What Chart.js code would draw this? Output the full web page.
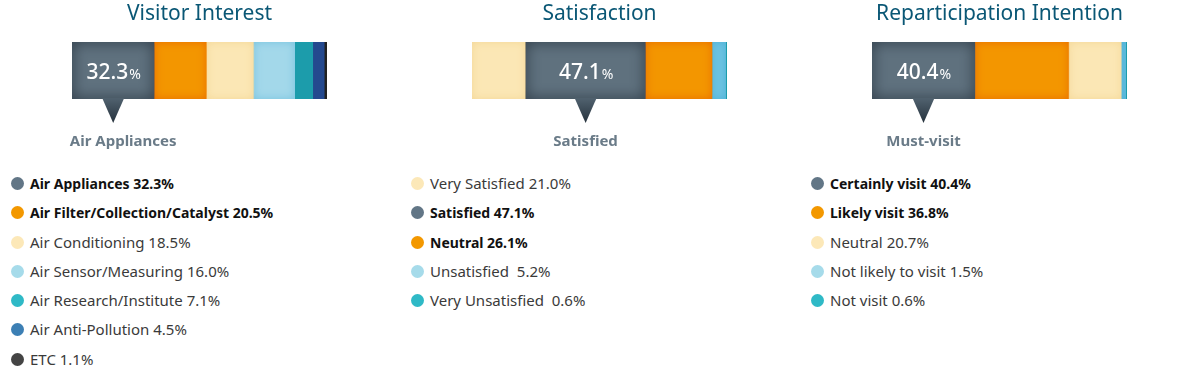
<!DOCTYPE html>
<html>
<head>
<meta charset="utf-8">
<script src="https://cdn.jsdelivr.net/npm/chart.js@4.4.0/dist/chart.umd.min.js"></script>
<style>
  html, body { margin: 0; padding: 0; background: #fff; }
  body { width: 1200px; height: 380px; position: relative; overflow: hidden; font-family: "Noto Sans", sans-serif; }
  .panel { position: absolute; top: 0; width: 400px; height: 380px; }
  .panel canvas { position: absolute; left: 0; top: 0; }
  .legend { position: absolute; left: 10px; top: 169px; margin: 0; padding: 0; list-style: none; }
  .legend li { height: 29.3px; line-height: 29.3px; font-size: 15px; color: #3a3a3a; white-space: pre; position: relative; padding-left: 20px; }
  .legend li.bold { font-weight: bold; font-size: 14px; color: #111; }
  .legend li span { position: absolute; left: 1px; top: 8px; width: 13px; height: 13px; border-radius: 50%; }
</style>
</head>
<body>
<div class="panel" style="left:0"><canvas id="c0" width="400" height="165"></canvas><ul class="legend" id="l0"></ul></div>
<div class="panel" style="left:400px"><canvas id="c1" width="400" height="165"></canvas><ul class="legend" id="l1"></ul></div>
<div class="panel" style="left:800px"><canvas id="c2" width="400" height="165"></canvas><ul class="legend" id="l2"></ul></div>
<script>
// data
const interestTitle = "Visitor Interest";
const interestLabels = ["Air Appliances", "Air Filter/Collection/Catalyst", "Air Conditioning", "Air Sensor/Measuring", "Air Research/Institute", "Air Anti-Pollution", "ETC"];
const interestValues = [32.3, 20.5, 18.5, 16.0, 7.1, 4.5, 1.1];

const satisfactionTitle = "Satisfaction";
const satisfactionLabels = ["Very Satisfied", "Satisfied", "Neutral", "Unsatisfied ", "Very Unsatisfied "];
const satisfactionValues = [21.0, 47.1, 26.1, 5.2, 0.6];

const revisitTitle = "Reparticipation Intention";
const revisitLabels = ["Certainly visit", "Likely visit", "Neutral", "Not likely to visit", "Not visit"];
const revisitValues = [40.4, 36.8, 20.7, 1.5, 0.6];

// colours
const DARK = "#5f717e", ORANGE = "#f39600", CREAM = "#fbe7b5", LBLUE = "#a3d8ea", TEAL = "#1c9cab", NAVY = "#24498e", BLACK = "#222";
const shadeOf = {};
shadeOf[DARK] = "#27333e"; shadeOf[ORANGE] = "#e96c00"; shadeOf[CREAM] = "#f4d797";
shadeOf[LBLUE] = "#78c3df"; shadeOf["#6fc4e2"] = "#4fb2d8";

const panels = [
  { title: interestTitle, labels: interestLabels, values: interestValues, hi: 0, caption: "Air Appliances", bold: [0, 1],
    bars: [DARK, ORANGE, CREAM, LBLUE, TEAL, NAVY, BLACK],
    dots: ["#627686", "#f39800", "#fce8b8", "#a6dbea", "#2fb9c6", "#3c7fb4", "#444"] },
  { title: satisfactionTitle, labels: satisfactionLabels, values: satisfactionValues, hi: 1, caption: "Satisfied", bold: [1, 2],
    bars: [CREAM, DARK, ORANGE, "#6fc4e2", TEAL],
    dots: ["#fce8b8", "#627686", "#f39800", "#a6dbea", "#2fb9c6"] },
  { title: revisitTitle, labels: revisitLabels, values: revisitValues, hi: 0, caption: "Must-visit", bold: [0, 1],
    bars: [DARK, ORANGE, CREAM, "#6fc4e2", TEAL],
    dots: ["#627686", "#f39800", "#fce8b8", "#a6dbea", "#2fb9c6"] }
];

function barBox(el) {
  const p = el.getProps(["x", "y", "base", "height"], true);
  const l = Math.min(p.x, p.base), r = Math.max(p.x, p.base);
  return { l: l, r: r, t: p.y - p.height / 2, b: p.y + p.height / 2 };
}

const decor = {
  id: "decor",
  afterDatasetsDraw(chart, args, opts) {
    const ctx = chart.ctx;
    const area = chart.chartArea;
    // inner shading on each segment
    chart.data.datasets.forEach((ds, i) => {
      const shade = shadeOf[ds.backgroundColor];
      if (!shade) return;
      const bx = barBox(chart.getDatasetMeta(i).data[0]);
      ctx.save();
      ctx.beginPath();
      ctx.rect(bx.l, bx.t, bx.r - bx.l, bx.b - bx.t);
      ctx.clip();
      ctx.shadowColor = shade;
      ctx.shadowBlur = ds.backgroundColor === DARK ? 14 : 9;
      ctx.lineWidth = 8;
      ctx.strokeStyle = shade;
      ctx.strokeRect(bx.l - 4, bx.t - 4, bx.r - bx.l + 8, bx.b - bx.t + 8);
      ctx.restore();
    });

    // title
    ctx.save();
    ctx.fillStyle = "#0a5775";
    ctx.font = "21px 'Noto Sans'";
    ctx.textAlign = "center";
    ctx.textBaseline = "middle";
    ctx.fillText(opts.title, (area.left + area.right) / 2, 14);

    // callout on highlighted segment
    const bx = barBox(chart.getDatasetMeta(opts.hi).data[0]);
    const cx = (bx.l + bx.r) / 2;
    const g = ctx.createLinearGradient(0, bx.b, 0, bx.b + 24);
    g.addColorStop(0, "#4f606d");
    g.addColorStop(1, "#26323d");
    ctx.fillStyle = g;
    ctx.beginPath();
    ctx.moveTo(cx - 11, bx.b - 1);
    ctx.lineTo(cx + 11, bx.b - 1);
    ctx.lineTo(cx, bx.b + 24);
    ctx.closePath();
    ctx.fill();

    const num = chart.data.datasets[opts.hi].data[0].toFixed(1);
    ctx.fillStyle = "#fff";
    ctx.textAlign = "left";
    ctx.textBaseline = "alphabetic";
    ctx.font = "500 21px 'Noto Sans'";
    const w1 = ctx.measureText(num).width;
    ctx.font = "14px 'Noto Sans'";
    const w2 = ctx.measureText("%").width;
    const sx = cx - (w1 + w2) / 2;
    ctx.font = "500 21px 'Noto Sans'";
    ctx.fillText(num, sx, (bx.t + bx.b) / 2 + 8);
    ctx.font = "14px 'Noto Sans'";
    ctx.fillText("%", sx + w1 + 1, (bx.t + bx.b) / 2 + 8);

    // caption
    ctx.fillStyle = "#6a7b88";
    ctx.font = "bold 15px 'Noto Sans'";
    ctx.textAlign = "center";
    ctx.textBaseline = "middle";
    ctx.fillText(opts.caption, cx + (opts.capShift || 0), 142);
    ctx.restore();
  }
};

panels.forEach((p, k) => {
  new Chart(document.getElementById("c" + k), {
    type: "bar",
    data: {
      labels: [""],
      datasets: p.labels.map((lab, i) => ({
        label: lab,
        data: [p.values[i]],
        backgroundColor: p.bars[i],
        borderWidth: 0,
        barPercentage: 1,
        categoryPercentage: 1
      }))
    },
    options: {
      indexAxis: "y",
      responsive: false,
      animation: false,
      layout: { padding: { left: 72, right: 73, top: 42, bottom: 66 } },
      scales: {
        x: { stacked: true, min: 0, max: 100, display: false },
        y: { stacked: true, display: false }
      },
      plugins: {
        legend: { display: false },
        tooltip: { enabled: false },
        decor: { title: p.title, hi: p.hi, caption: p.caption, capShift: k === 0 ? 10 : 0 }
      }
    },
    plugins: [decor]
  });

  const ul = document.getElementById("l" + k);
  p.labels.forEach((lab, i) => {
    const li = document.createElement("li");
    if (p.bold.includes(i)) li.className = "bold";
    li.innerHTML = `<span style="background:${p.dots[i]}"></span>${lab} ${p.values[i].toFixed(1)}%`;
    ul.appendChild(li);
  });
});
</script>
</body>
</html>
